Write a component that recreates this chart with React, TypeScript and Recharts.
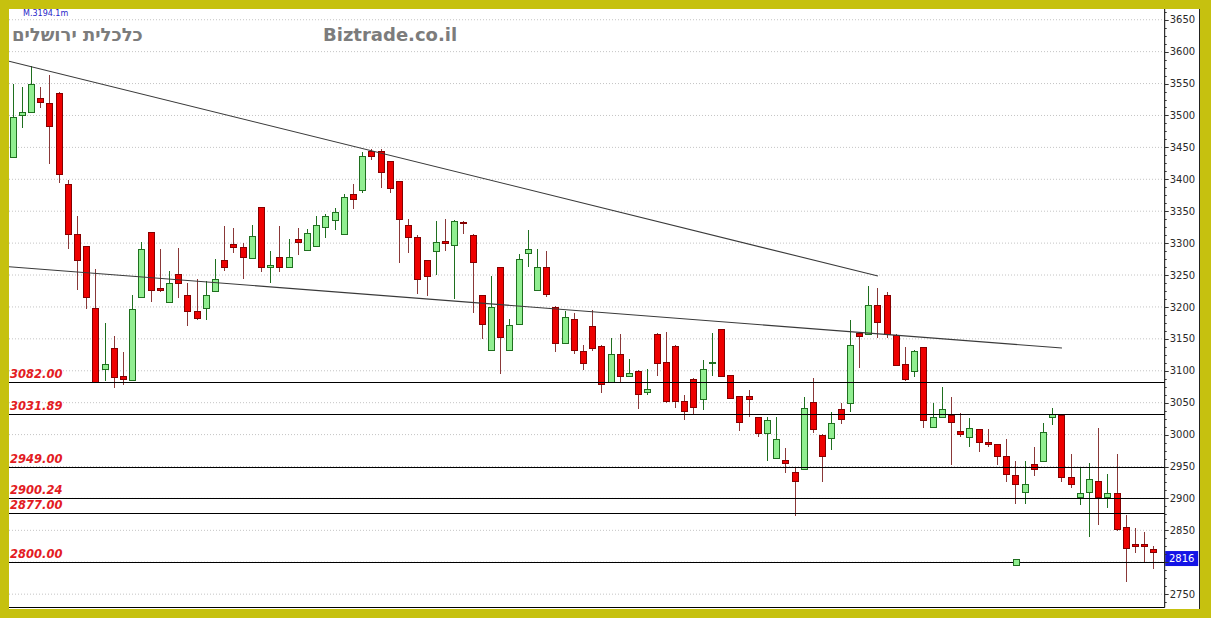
import { Bar, CartesianGrid, ComposedChart, ReferenceDot, ReferenceLine, XAxis, YAxis } from 'recharts'

// daily candles, oldest first
const OPEN = [
  3435, 3501, 3505, 3528, 3519, 3535, 3393, 3314, 3295, 3198,
  3103, 3136, 3092, 3085, 3216, 3318, 3229, 3208, 3252, 3218,
  3193, 3199, 3225, 3274, 3298, 3294, 3277, 3356, 3263, 3278,
  3263, 3307, 3289, 3295, 3326, 3336, 3314, 3377, 3383, 3444,
  3445, 3428, 3397, 3329, 3309, 3273, 3287, 3304, 3297, 3333,
  3313, 3218, 3132, 3262, 3133, 3174, 3284, 3227, 3262, 3200,
  3143, 3181, 3131, 3170, 3139, 3083, 3126, 3092, 3100, 3066,
  3158, 3113, 3139, 3053, 3087, 3055, 3112, 3165, 3093, 3060,
  3060, 3027, 3003, 2964, 2960, 2942, 2946, 3051, 3000, 2994,
  3040, 3049, 3159, 3158, 3203, 3219, 3156, 3110, 3100, 3137,
  3012, 3027, 3031, 3005, 2997, 3008, 2989, 2985, 2967, 2937,
  2910, 2954, 2959, 3027, 3031, 2933, 2903, 2910, 2927, 2903,
  2909, 2855, 2828, 2829, 2821,
]
const HIGH = [
  3550, 3545, 3577, 3545, 3564, 3536, 3399, 3343, 3296, 3260,
  3175, 3155, 3129, 3218, 3301, 3318, 3291, 3257, 3292, 3237,
  3243, 3241, 3275, 3327, 3323, 3300, 3329, 3356, 3287, 3327,
  3306, 3323, 3322, 3343, 3346, 3355, 3377, 3392, 3442, 3447,
  3447, 3429, 3398, 3337, 3312, 3274, 3334, 3337, 3336, 3334,
  3314, 3219, 3249, 3263, 3181, 3283, 3320, 3291, 3287, 3201,
  3193, 3190, 3140, 3195, 3140, 3151, 3158, 3119, 3101, 3102,
  3159, 3161, 3140, 3062, 3088, 3117, 3159, 3166, 3094, 3061,
  3070, 3028, 3028, 3028, 2979, 2948, 3059, 3088, 3001, 3036,
  3050, 3179, 3160, 3233, 3230, 3223, 3157, 3137, 3132, 3138,
  3050, 3074, 3059, 3034, 3026, 3009, 3008, 2986, 2993, 2959,
  2959, 2981, 3018, 3041, 3032, 2970, 2949, 2956, 3010, 2938,
  2969, 2874, 2854, 2848, 2825,
]
const LOW = [
  3435, 3481, 3505, 3511, 3424, 3394, 3291, 3227, 3197, 3081,
  3084, 3073, 3078, 3084, 3215, 3208, 3223, 3207, 3214, 3170,
  3179, 3179, 3224, 3257, 3284, 3244, 3276, 3254, 3237, 3255,
  3262, 3282, 3288, 3294, 3308, 3321, 3313, 3354, 3378, 3431,
  3386, 3378, 3269, 3284, 3221, 3217, 3250, 3288, 3212, 3314,
  3191, 3150, 3131, 3095, 3132, 3173, 3262, 3226, 3216, 3130,
  3142, 3127, 3101, 3131, 3065, 3082, 3083, 3092, 3040, 3062,
  3092, 3050, 3041, 3023, 3031, 3038, 3092, 3090, 3056, 3006,
  3027, 2997, 2959, 2963, 2940, 2872, 2945, 3002, 2925, 2976,
  3017, 3036, 3104, 3157, 3151, 3151, 3107, 3084, 3091, 3010,
  3010, 3026, 2953, 2997, 2980, 2973, 2980, 2953, 2926, 2892,
  2891, 2935, 2958, 3015, 2926, 2917, 2889, 2840, 2859, 2885,
  2849, 2769, 2815, 2799, 2789,
]
const CLOSE = [
  3497, 3505, 3550, 3521, 3484, 3408, 3314, 3274, 3216, 3083,
  3110, 3091, 3087, 3196, 3291, 3226, 3226, 3237, 3237, 3193,
  3182, 3219, 3244, 3263, 3294, 3278, 3311, 3262, 3265, 3263,
  3278, 3301, 3316, 3329, 3342, 3349, 3373, 3369, 3436, 3437,
  3412, 3386, 3338, 3309, 3243, 3248, 3302, 3300, 3335, 3331,
  3271, 3174, 3200, 3153, 3171, 3275, 3291, 3262, 3221, 3143,
  3184, 3133, 3112, 3136, 3080, 3126, 3092, 3096, 3063, 3071,
  3112, 3053, 3053, 3037, 3044, 3103, 3114, 3092, 3058, 3019,
  3055, 3003, 3023, 2993, 2955, 2928, 3041, 3008, 2966, 3018,
  3024, 3140, 3154, 3203, 3177, 3157, 3109, 3087, 3131, 3023,
  3028, 3040, 3019, 3001, 3010, 2988, 2985, 2967, 2938, 2923,
  2923, 2946, 3004, 3033, 2933, 2922, 2908, 2931, 2903, 2908,
  2852, 2822, 2826, 2825, 2816,
]

// candle index where each month starts (vertical grid)
const MONTH_STARTS = [0, 7, 26, 46, 69, 89, 109]

const LEVELS = [3082, 3031.89, 2949, 2900.24, 2877, 2800]

const TREND_UPPER = [
  { x: -0.4, y: 3585 },
  { x: 94.05, y: 3248.5 },
]
const TREND_LOWER = [
  { x: -0.4, y: 3263 },
  { x: 114.05, y: 3135.7 },
]

const LAST_PRICE = 2816
const MARKER_INDEX = 109
const MARKER_VALUE = 2800

const X_DOMAIN = [-0.4022, 125.217]
const Y_DOMAIN = [2729.1, 3666.8]

const yTicks: number[] = []
for (let v = 2737.5; v <= 3662.5; v += 12.5) yTicks.push(v)
const yGrid = yTicks.filter((v) => v % 50 === 0)

const data = OPEN.map((o, i) => ({ i, o, h: HIGH[i], l: LOW[i], c: CLOSE[i] }))

const UP_FILL = '#90ee90'
const UP_LINE = '#1f6f1f'
const DOWN_FILL = '#ee0000'
const DOWN_LINE = '#850000'
const DOWN_WICK = '#8a3838'

function Candle(props: any) {
  const { x, y, width, height, payload } = props
  if (x == null || !payload) return null
  const { o, h, l, c } = payload
  const top = Math.min(y, y + height)
  const span = Math.abs(height)
  const ppu = h === l ? 0 : span / (h - l)
  const yOf = (v: number) => top + (h - v) * ppu
  const cx = Math.round(x + width / 2) + 0.5
  const up = c >= o
  let bodyTop = Math.round(yOf(Math.max(o, c))) + 0.5
  let bodyBot = Math.round(yOf(Math.min(o, c))) + 0.5
  if (bodyBot - bodyTop < 1) bodyBot = bodyTop + 1
  return (
    <g>
      <line
        x1={cx}
        x2={cx}
        y1={Math.round(top)}
        y2={Math.round(top + span)}
        stroke={up ? UP_LINE : DOWN_WICK}
        strokeWidth={1}
      />
      <rect
        x={cx - 3}
        y={bodyTop}
        width={6}
        height={bodyBot - bodyTop}
        fill={up ? UP_FILL : DOWN_FILL}
        stroke={up ? UP_LINE : DOWN_LINE}
        strokeWidth={1}
      />
    </g>
  )
}

function PriceTick(props: any) {
  const { x, y, payload } = props
  const major = payload.value % 50 === 0
  // the last-price tag sits over the 2800 label
  const showText = major && payload.value !== 2800
  const yy = Math.round(y) + 0.5
  return (
    <g>
      <line x1={x} x2={x + (major ? 4 : 2)} y1={yy} y2={yy} stroke="#333" />
      {showText && (
        <text
          x={x + 5}
          y={y}
          dy="0.36em"
          fontSize={10}
          fontFamily="DejaVu Sans"
          fill="#2a2a2a"
        >
          {payload.value}
        </text>
      )}
    </g>
  )
}

const crispLine = (p: any) => {
  const yy = Math.round(p.y1) + 0.5
  return <line x1={p.x1} x2={p.x2} y1={yy} y2={yy} stroke="#000" strokeWidth={1} />
}

const levelLabel = (value: number) => (p: any) => {
  const vb = p.viewBox
  return (
    <text
      x={vb.x + 1}
      y={vb.y - 4.3}
      fontSize={11.5}
      fontWeight="bold"
      fontStyle="italic"
      fontFamily="DejaVu Sans"
      fill="#e31b23"
    >
      {value.toFixed(2)}
    </text>
  )
}

const priceTag = (p: any) => {
  const vb = p.viewBox
  const x0 = vb.x + vb.width + 0.5
  return (
    <g>
      <rect x={x0} y={vb.y - 1} width={33} height={15} fill="#1414e6" />
      <text
        x={x0 + 16.5}
        y={vb.y + 6.5}
        dy="0.36em"
        textAnchor="middle"
        fontSize={10}
        fontFamily="DejaVu Sans"
        fill="#fff"
      >
        {LAST_PRICE}
      </text>
    </g>
  )
}

const markerShape = (p: any) => {
  const cx = Math.round(p.cx) + 0.5
  const cy = Math.round(p.cy) + 0.5
  return <rect x={cx - 3} y={cy - 3} width={6} height={6} fill={UP_FILL} stroke={UP_LINE} />
}

const waterStyle = {
  position: 'absolute' as const,
  top: 15,
  fontFamily: 'DejaVu Sans',
  fontWeight: 'bold' as const,
  fontSize: 18,
  color: '#7c7c7c',
  whiteSpace: 'nowrap' as const,
  lineHeight: '21px',
}

export default function App() {
  return (
    <div
      style={{
        position: 'absolute',
        left: 0,
        top: 0,
        width: 1211,
        height: 618,
        background: '#c6c10f',
      }}
    >
      <div
        style={{
          position: 'absolute',
          left: 9,
          top: 9,
          width: 1190,
          height: 600,
          background: '#fff',
          borderRight: '1px solid #222',
          overflow: 'hidden',
        }}
      >
        <ComposedChart
          width={1190}
          height={600}
          data={data}
          margin={{ top: 0, right: 0, bottom: 0, left: 0 }}
        >
          <CartesianGrid
            stroke="#c4c4c4"
            strokeDasharray="1 2"
            horizontalValues={yGrid}
            verticalValues={MONTH_STARTS}
          />
          <XAxis
            dataKey="i"
            type="number"
            domain={X_DOMAIN}
            allowDataOverflow
            ticks={MONTH_STARTS}
            tick={false}
            tickLine={false}
            axisLine={{ stroke: '#000' }}
            height={1.5}
          />
          <YAxis
            orientation="right"
            type="number"
            domain={Y_DOMAIN}
            allowDataOverflow
            ticks={yTicks}
            interval={0}
            tick={PriceTick}
            tickLine={false}
            tickSize={0}
            tickMargin={0}
            axisLine={{ stroke: '#000' }}
            width={34.3}
          />
          <Bar
            dataKey={(d: any) => [d.l, d.h]}
            barSize={7}
            shape={(p: any) => <Candle {...p} />}
            isAnimationActive={false}
          />
          {LEVELS.map((v) => (
            <ReferenceLine key={v} y={v} shape={crispLine} label={levelLabel(v)} />
          ))}
          <ReferenceLine segment={TREND_UPPER} stroke="#3a3a3a" strokeWidth={1.1} />
          <ReferenceLine segment={TREND_LOWER} stroke="#3a3a3a" strokeWidth={1.1} />
          <ReferenceLine y={LAST_PRICE} stroke="none" label={priceTag} />
          <ReferenceDot x={MARKER_INDEX} y={MARKER_VALUE} r={3} shape={markerShape} />
        </ComposedChart>
        <div
          style={{
            position: 'absolute',
            left: 14,
            top: 0,
            fontFamily: 'DejaVu Sans',
            fontSize: 8,
            lineHeight: '9px',
            color: '#2626c8',
          }}
        >
          M.3194.1m
        </div>
        <div style={{ ...waterStyle, left: 3, direction: 'rtl' }}>כלכלית ירושלים</div>
        <div style={{ ...waterStyle, left: 314 }}>Biztrade.co.il</div>
      </div>
    </div>
  )
}
